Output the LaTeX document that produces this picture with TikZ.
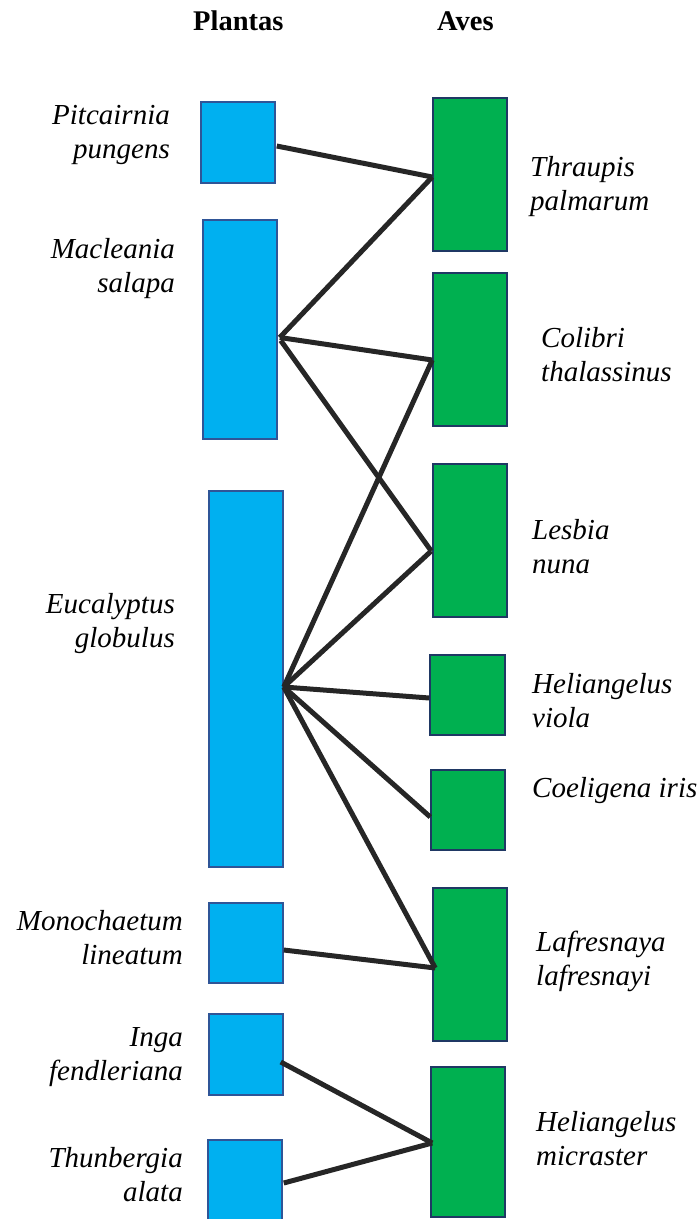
\documentclass[tikz,border=0pt]{standalone}
\usepackage{fontspec}
\setmainfont{Liberation Serif}
\usetikzlibrary{calc}
\definecolor{plantfill}{HTML}{00B0F0}
\definecolor{plantline}{HTML}{2F5597}
\definecolor{birdfill}{HTML}{00B050}
\definecolor{birdline}{HTML}{1F3864}
\definecolor{linkcol}{HTML}{262626}
\tikzset{
  plant/.style={draw=plantline, fill=plantfill, line width=1.5pt, inner sep=0pt, minimum width=74pt},
  bird/.style={draw=birdline, fill=birdfill, line width=1.5pt, inner sep=0pt, minimum width=74pt},
  link/.style={draw=linkcol, line width=5pt},
  lbl/.style={inner sep=0pt, font=\fontsize{29}{34}\selectfont\itshape},
  llbl/.style={lbl, align=right, anchor=base east},
  rlbl/.style={lbl, align=left, anchor=base west},
  head/.style={inner sep=0pt, anchor=base west, font=\fontsize{28.5}{34}\selectfont\bfseries}
}
\begin{document}
\begin{tikzpicture}[x=1pt,y=-1pt]
\useasboundingbox (0,0) rectangle (700,1219);
% headers
\node[head] (hp) at (193,30) {Plantas};
\node[head] (ha) at (437,30) {Aves};
% plants
\node[plant, minimum height=81pt]  (pit)  at (238,142.5) {};
\node[plant, minimum height=219pt] (mac)  at (240,329.5) {};
\node[plant, minimum height=376pt] (euc)  at (246,679) {};
\node[plant, minimum height=80pt]  (mon)  at (246,943) {};
\node[plant, minimum height=81pt]  (inga) at (246,1054.5) {};
\node[plant, minimum height=84pt]  (thu)  at (245,1182) {};
% birds
\node[bird, minimum height=153pt] (thr) at (470,174.5) {};
\node[bird, minimum height=153pt] (col) at (470,349.5) {};
\node[bird, minimum height=153pt] (les) at (470,540.5) {};
\node[bird, minimum height=80pt, minimum width=75pt] (hv) at (467.5,695) {};
\node[bird, minimum height=80pt]  (coe) at (468,810) {};
\node[bird, minimum height=153pt] (laf) at (470,964.5) {};
\node[bird, minimum height=150pt] (mic) at (468,1142) {};
% attachment points
\coordinate (pitA)  at ($(pit.east)+(1,3.5)$);
\coordinate (macA)  at ($(mac.east)+(2,8)$);
\coordinate (macB)  at ($(mac.east)+(3,11)$);
\coordinate (eucA)  at ($(euc.east)+(0,8)$);
\coordinate (monA)  at ($(mon.east)+(0,7)$);
\coordinate (ingaA) at ($(inga.east)+(-3,7.5)$);
\coordinate (thuA)  at ($(thu.east)+(1,1)$);
\coordinate (thrA)  at ($(thr.west)+(0,2.5)$);
\coordinate (colA)  at ($(col.west)+(0,10.5)$);
\coordinate (lesA)  at ($(les.west)+(-1,10.5)$);
\coordinate (hvA)   at ($(hv.west)+(0,3)$);
\coordinate (coeA)  at ($(coe.west)+(0,7)$);
\coordinate (lafA)  at ($(laf.west)+(3,3.5)$);
\coordinate (micA)  at ($(mic.west)+(2,1)$);
% links
\draw[link] (pitA) -- (thrA);
\draw[link] (macA) -- (thrA);
\draw[link] (macA) -- (colA);
\draw[link] (macB) -- (lesA);
\draw[link] (eucA) -- (colA);
\draw[link] (eucA) -- (lesA);
\draw[link] (eucA) -- (hvA);
\draw[link] (eucA) -- (coeA);
\draw[link] (eucA) -- (lafA);
\draw[link] (monA) -- (lafA);
\draw[link] (ingaA) -- (micA);
\draw[link] (thuA) -- (micA);
% plant labels (anchor = baseline of last line)
\node[llbl] (lpit)  at (170,158)  {Pitcairnia\\pungens};
\node[llbl] (lmac)  at (175,292)  {Macleania\\salapa};
\node[llbl] (leuc)  at (175,647)  {Eucalyptus\\globulus};
\node[llbl] (lmon)  at (183,964)  {Monochaetum\\lineatum};
\node[llbl] (linga) at (183,1080) {Inga\\fendleriana\ };
\node[llbl] (lthu)  at (183,1201) {Thunbergia\\alata};
% bird labels
\node[rlbl] (lthr) at (530,210)  {Thraupis\\palmarum};
\node[rlbl] (lcol) at (541,381)  {Colibri\\thalassinus};
\node[rlbl] (lles) at (532,573)  {Lesbia\\nuna};
\node[rlbl] (lhv)  at (532,727)  {Heliangelus\\viola};
\node[rlbl] (lcoe) at (532,797)  {Coeligena iris};
\node[rlbl] (llaf) at (536,985)  {Lafresnaya\\lafresnayi};
\node[rlbl] (lmic) at (536,1165) {Heliangelus\\micraster};
\end{tikzpicture}
\end{document}
